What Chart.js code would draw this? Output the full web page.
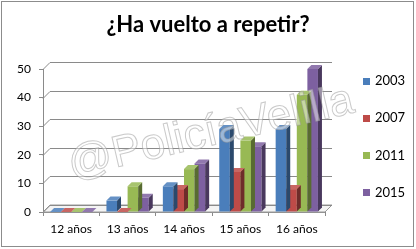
<!DOCTYPE html>
<html>
<head>
<meta charset="utf-8">
<script src="https://cdn.jsdelivr.net/npm/chart.js@4.4.0/dist/chart.umd.min.js"></script>
<style>
  html, body { margin: 0; padding: 0; background: #fff; }
  #wrap { position: relative; width: 416px; height: 249px; }
  #frame { position: absolute; left: 1px; top: 1px; width: 411px; height: 244px;
           border: 1px solid #8c8c8c; pointer-events: none; }
</style>
</head>
<body>
<div id="wrap">
  <canvas id="chart" width="416" height="249"></canvas>
  <div id="frame"></div>
</div>
<script>
// --- data -------------------------------------------------------------
const categories  = ['12 años', '13 años', '14 años', '15 años', '16 años'];
const seriesNames = ['2003', '2007', '2011', '2015'];
const values2003  = [0, 4, 9, 29, 29];
const values2007  = [0, 0, 8, 14, 8];
const values2011  = [0, 9, 15, 25, 41];
const values2015  = [0, 5, 17, 23, 50];
const yMax = 50;
const yStep = 10;

const COLORS = ['#4a7ebb', '#be4b48', '#98b954', '#7d60a0'];
const FONT = 'Lato, "Open Sans", sans-serif';

// depth of the back wall and of each column (Excel-like 3D look)
const WALL_DX = 7, WALL_DY = 7;
const BAR_DX = 4, BAR_DY = 4;

function shade(hex, f) {
  const n = parseInt(hex.slice(1), 16);
  const r = (n >> 16) & 255, g = (n >> 8) & 255, b = n & 255;
  const m = v => Math.max(0, Math.min(255, Math.round(f < 1 ? v * f : v + (255 - v) * (f - 1))));
  return `rgb(${m(r)},${m(g)},${m(b)})`;
}

// horizontal gradient across a column front, lighter towards the middle
function frontFill(i) {
  return ctx => {
    const el = ctx.element;
    if (!el || el.width == null) return COLORS[i];
    const l = el.x - el.width / 2, r = el.x + el.width / 2;
    const g = ctx.chart.ctx.createLinearGradient(l, 0, r, 0);
    g.addColorStop(0, shade(COLORS[i], 0.95));
    g.addColorStop(0.45, shade(COLORS[i], 1.12));
    g.addColorStop(1, shade(COLORS[i], 0.9));
    return g;
  };
}

// back wall grid + floor, drawn before the columns
const wallPlugin = {
  id: 'wall3d',
  beforeDatasetsDraw(chart) {
    const { ctx, chartArea: a, scales: { y } } = chart;
    ctx.save();
    // floor
    ctx.beginPath();
    ctx.moveTo(a.left, a.bottom);
    ctx.lineTo(a.right, a.bottom);
    ctx.lineTo(a.right + WALL_DX, a.bottom - WALL_DY);
    ctx.lineTo(a.left + WALL_DX, a.bottom - WALL_DY);
    ctx.closePath();
    ctx.fillStyle = '#f4f4f4';
    ctx.fill();
    ctx.strokeStyle = '#9a9a9a';
    ctx.lineWidth = 1;
    ctx.stroke();
    // grid lines on the left and back walls
    ctx.strokeStyle = '#8a8a8a';
    y.ticks.forEach(t => {
      const py = Math.round(y.getPixelForValue(t.value)) + 0.5;
      ctx.beginPath();
      ctx.moveTo(a.left, py);
      ctx.lineTo(a.left + WALL_DX, py - WALL_DY);
      ctx.lineTo(a.right + WALL_DX, py - WALL_DY);
      ctx.stroke();
    });
    ctx.restore();
  },
  // side and top faces of each column, after its dataset's fronts
  afterDatasetDraw(chart, args) {
    const { ctx } = chart;
    const color = COLORS[args.index];
    ctx.save();
    args.meta.data.forEach(bar => {
      const l = bar.x - bar.width / 2, r = bar.x + bar.width / 2;
      const top = bar.y, base = bar.base;
      ctx.beginPath();
      ctx.moveTo(r, top);
      ctx.lineTo(r + BAR_DX, top - BAR_DY);
      ctx.lineTo(r + BAR_DX, base - BAR_DY);
      ctx.lineTo(r, base);
      ctx.closePath();
      ctx.fillStyle = shade(color, 0.58);
      ctx.fill();
      ctx.beginPath();
      ctx.moveTo(l, top);
      ctx.lineTo(r, top);
      ctx.lineTo(r + BAR_DX, top - BAR_DY);
      ctx.lineTo(l + BAR_DX, top - BAR_DY);
      ctx.closePath();
      ctx.fillStyle = shade(color, 1.15);
      ctx.fill();
    });
    ctx.restore();
  },
  afterDraw(chart) {
    const { ctx } = chart;
    ctx.save();
    // legend
    ctx.font = `13px ${FONT}`;
    ctx.textBaseline = 'middle';
    ctx.textAlign = 'left';
    chart.data.datasets.forEach((ds, i) => {
      const cy = 81 + i * 37.3;
      ctx.fillStyle = COLORS[i];
      ctx.fillRect(363, Math.round(cy - 3.5), 7, 7);
      ctx.fillStyle = '#000';
      ctx.fillText(ds.label, 375, cy);
    });
    // watermark
    ctx.translate(211, 133);
    ctx.rotate(-13 * Math.PI / 180);
    ctx.font = `44px "Liberation Sans", Arial, sans-serif`;
    ctx.textAlign = 'center';
    ctx.textBaseline = 'middle';
    ctx.fillStyle = 'rgba(255,255,255,0.45)';
    ctx.fillText('@PolicíaVelilla', 0, 0);
    ctx.strokeStyle = 'rgba(150,150,150,0.5)';
    ctx.lineWidth = 1;
    ctx.strokeText('@PolicíaVelilla', 0, 0);
    ctx.restore();
  }
};

const valueLists = [values2003, values2007, values2011, values2015];

new Chart(document.getElementById('chart'), {
  type: 'bar',
  data: {
    labels: categories,
    datasets: seriesNames.map((name, i) => ({
      label: name,
      data: valueLists[i],
      backgroundColor: frontFill(i),
      borderWidth: 0,
      barPercentage: 1,
      categoryPercentage: 0.75,
    })),
  },
  options: {
    responsive: false,
    animation: false,
    layout: { padding: 0 },
    plugins: {
      legend: { display: false },
      tooltip: { enabled: false },
      title: {
        display: true,
        text: '¿Ha vuelto a repetir?',
        color: '#000',
        font: { family: FONT, size: 22, weight: 'bold' },
        padding: { top: 12, bottom: 30.6 },
      },
    },
    scales: {
      x: {
        grid: { display: true, drawOnChartArea: false, drawTicks: true, tickLength: 4, color: '#8a8a8a' },
        border: { display: true, color: '#8a8a8a' },
        ticks: { color: '#000', padding: 6, font: { family: FONT, size: 12 }, maxRotation: 0 },
        afterFit: s => { s.height = 37; },
      },
      y: {
        min: 0,
        max: yMax,
        grid: { display: true, drawOnChartArea: false, drawTicks: true, tickLength: 4, color: '#8a8a8a' },
        border: { display: true, color: '#8a8a8a' },
        ticks: { stepSize: yStep, color: '#000', padding: 8, font: { family: FONT, size: 12 } },
        afterFit: s => { s.width = 43; },
      },
      // empty right-hand axis that reserves the legend column
      legendSpace: {
        type: 'linear',
        position: 'right',
        display: true,
        grid: { display: false },
        border: { display: false },
        ticks: { display: false },
        afterFit: s => { s.width = 91; },
      },
    },
  },
  plugins: [wallPlugin],
});
</script>
</body>
</html>
